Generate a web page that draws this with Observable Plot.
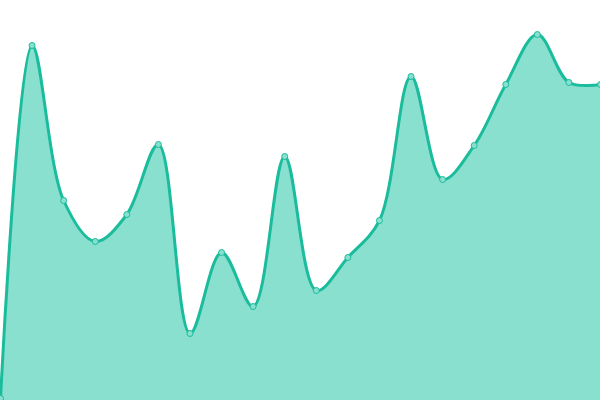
<!DOCTYPE html>
<html>
<head>
<meta charset="utf-8">
<script src="https://cdn.jsdelivr.net/npm/d3@7"></script>
<script src="https://cdn.jsdelivr.net/npm/@observablehq/plot@0.6"></script>
<style>
html,body{margin:0;padding:0;background:#fff;overflow:hidden;}
#chart svg{display:block;}
</style>
</head>
<body>
<div id="chart"></div>
<script>
const indices = [0,1,2,3,4,5,6,7,8,9,10,11,12,13,14,15,16,17,18,19];
const values = [2,355,200,159,186,256,67,148,94,244,110,143,180,324,221,255,316,366,318,316];

const data = indices.map((i, k) => ({x: i, y: values[k]}));

const chart = Plot.plot({
  width: 600,
  height: 400,
  margin: 0,
  x: {domain: [0, 19], axis: null},
  y: {domain: [0, 400], axis: null},
  marks: [
    Plot.areaY(data, {x: "x", y: "y", curve: "catmull-rom", fill: "#89e0cf"}),
    Plot.lineY(data, {x: "x", y: "y", curve: "catmull-rom", stroke: "#1abc9c", strokeWidth: 3}),
    Plot.dot(data, {x: "x", y: "y", r: 3, fill: "#8ae0d0", stroke: "#1abc9c", strokeWidth: 1})
  ]
});
document.getElementById("chart").appendChild(chart);
</script>
</body>
</html>
